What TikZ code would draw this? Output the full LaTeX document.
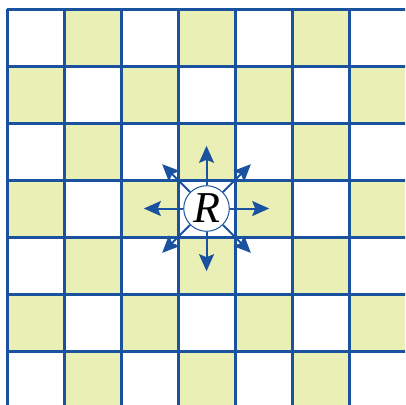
\documentclass[tikz,border=0pt]{standalone}
\usepackage{fontspec}
\setmainfont{Liberation Serif}
\usepackage{tikz}
\usetikzlibrary{arrows.meta}

\definecolor{cellyel}{RGB}{234,240,181}
\definecolor{gridblue}{RGB}{27,82,160}

\begin{document}
\begin{tikzpicture}[x=1cm, y=-1cm,
  cell/.style={fill=cellyel},
  gl/.style={draw=gridblue, line width=1.5pt},
  arr/.style={draw=gridblue, line width=1pt, -{Stealth[length=8.5pt,width=7.5pt,inset=1.5pt]}},
  ctr/.style={circle, draw=gridblue, line width=0.5pt, fill=white, minimum size=0.8cm, inner sep=0pt,
    font=\fontsize{22}{24}\selectfont\itshape}]
\useasboundingbox (0,0) rectangle (7.105,7.105);
\clip (0,0) rectangle (7.105,7.105);
\begin{scope}[shift={(0.123,0.158)}]
% shaded squares
\foreach \r in {0,2,4,6} \foreach \c in {1,3,5} \fill[cell] (\c,\r) rectangle ++(1,1);
\foreach \r in {1,3,5} \foreach \c in {0,2,4,6} \fill[cell] (\c,\r) rectangle ++(1,1);
% grid
\foreach \k in {0,...,6} {
  \draw[gl] (\k,0) -- (\k,7.2);
  \draw[gl] (0,\k) -- (7.2,\k);
}
% centre
\node[ctr] (r) at (3.5,3.5) {R};
\foreach \a in {0,45,...,315} {
  \coordinate (tip\a) at ([shift={(\a:1.1)}]r.center);
  \draw[arr] (r) -- (tip\a);
}
\end{scope}
\end{tikzpicture}
\end{document}
